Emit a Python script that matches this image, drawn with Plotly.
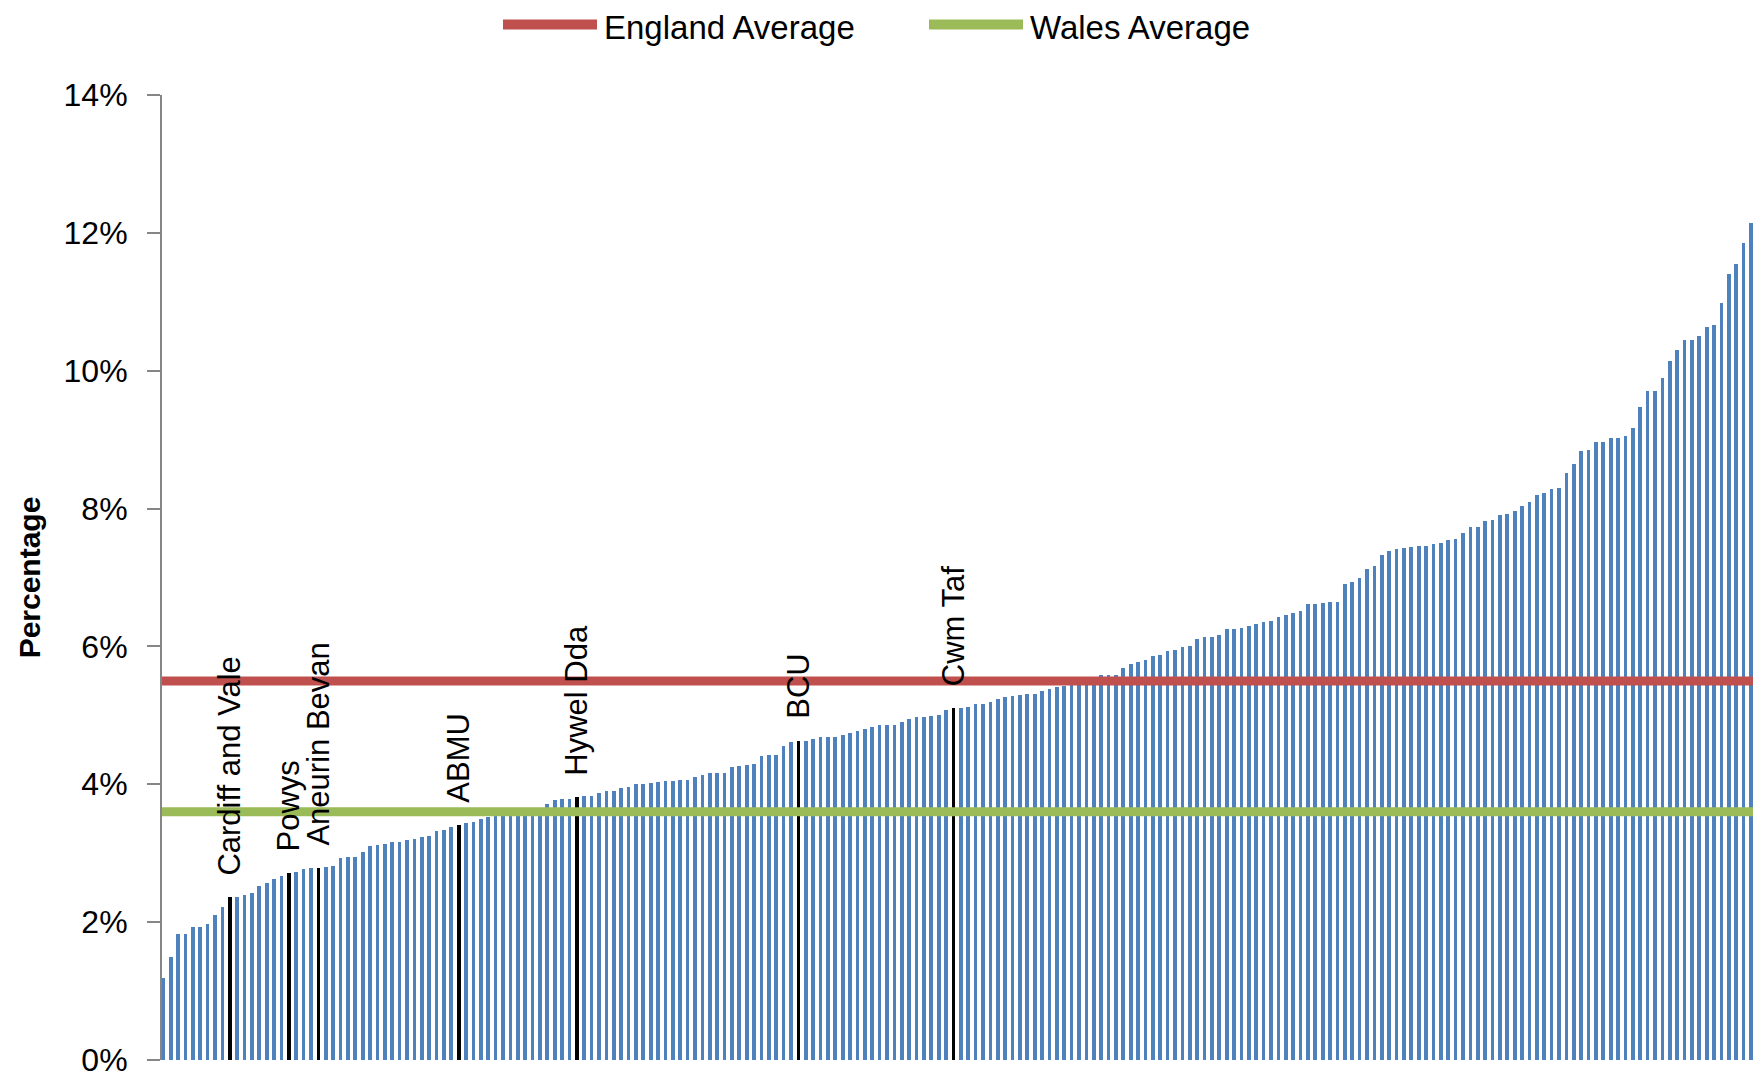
import plotly.graph_objects as go

# ---- data -------------------------------------------------------------
values = [
    1.19, 1.49, 1.83, 1.83, 1.93, 1.93, 1.97, 2.10, 2.22, 2.36,
    2.37, 2.40, 2.42, 2.52, 2.57, 2.62, 2.67, 2.71, 2.73, 2.77,
    2.79, 2.79, 2.80, 2.81, 2.93, 2.95, 2.95, 3.02, 3.11, 3.12,
    3.14, 3.17, 3.17, 3.19, 3.20, 3.24, 3.25, 3.32, 3.34, 3.38,
    3.41, 3.44, 3.45, 3.49, 3.53, 3.55, 3.56, 3.57, 3.58, 3.60,
    3.62, 3.64, 3.71, 3.77, 3.78, 3.79, 3.81, 3.83, 3.83, 3.87,
    3.90, 3.90, 3.94, 3.96, 4.01, 4.01, 4.02, 4.03, 4.05, 4.05,
    4.06, 4.06, 4.10, 4.14, 4.16, 4.16, 4.17, 4.25, 4.27, 4.28,
    4.29, 4.41, 4.43, 4.43, 4.55, 4.61, 4.63, 4.63, 4.65, 4.69,
    4.69, 4.69, 4.71, 4.74, 4.77, 4.80, 4.83, 4.86, 4.86, 4.86,
    4.91, 4.94, 4.97, 4.97, 4.99, 5.01, 5.08, 5.11, 5.11, 5.12,
    5.17, 5.17, 5.19, 5.24, 5.26, 5.28, 5.29, 5.31, 5.31, 5.36,
    5.38, 5.41, 5.42, 5.44, 5.47, 5.50, 5.53, 5.58, 5.58, 5.59,
    5.69, 5.75, 5.77, 5.80, 5.86, 5.88, 5.94, 5.95, 5.99, 6.00,
    6.11, 6.14, 6.14, 6.17, 6.25, 6.25, 6.27, 6.30, 6.33, 6.35,
    6.37, 6.42, 6.46, 6.49, 6.51, 6.61, 6.61, 6.63, 6.64, 6.65,
    6.91, 6.93, 7.00, 7.13, 7.17, 7.33, 7.38, 7.42, 7.43, 7.44,
    7.45, 7.46, 7.48, 7.50, 7.54, 7.56, 7.65, 7.73, 7.73, 7.82,
    7.83, 7.91, 7.92, 7.97, 8.04, 8.10, 8.20, 8.23, 8.29, 8.30,
    8.52, 8.64, 8.83, 8.85, 8.97, 8.97, 9.02, 9.02, 9.06, 9.17,
    9.48, 9.70, 9.70, 9.90, 10.14, 10.30, 10.45, 10.45, 10.51, 10.64,
    10.67, 10.98, 11.40, 11.55, 11.86, 12.15,
]
ranks = list(range(1, len(values) + 1))

welsh_names = ["Cardiff and Vale", "Powys", "Aneurin Bevan", "ABMU",
               "Hywel Dda", "BCU", "Cwm Taf"]
welsh_ranks = [10, 18, 22, 41, 57, 87, 108]

england_average = 5.5
wales_average = 3.6

y_ticks = [0, 2, 4, 6, 8, 10, 12, 14]
y_tick_labels = ["0%", "2%", "4%", "6%", "8%", "10%", "12%", "14%"]

# ---- style ------------------------------------------------------------
FONT = "Liberation Sans, Arial, sans-serif"
BLUE = "#4F81BD"
RED = "#C0504D"
GREEN = "#9BBB59"
AXIS = "#868686"

bar_colors = ["black" if r in welsh_ranks else BLUE for r in ranks]

# page body has an 8px margin on every side: keep the figure inside the
# 1761x1080 window so no scrollbars appear
OFF = 8
FIG_W, FIG_H = 1761 - 2 * OFF, 1080 - 2 * OFF
PLOT_L, PLOT_T, PLOT_B = 162, 95, 1060          # page pixels
PW = FIG_W + OFF - PLOT_L                          # plot width (px)
PH = PLOT_B - PLOT_T

# x range: first bar just right of the y axis, last bar at right edge
first_px, last_px = 163.3, PLOT_L + PW - 2.0
step = (last_px - first_px) / (len(values) - 1)
x_lo = ranks[0] - (first_px - PLOT_L) / step
x_hi = x_lo + PW / step

fig = go.Figure()
fig.add_trace(go.Bar(
    x=ranks, y=values, width=0.5,
    marker=dict(color=bar_colors, line=dict(width=0)),
    showlegend=False, hoverinfo="x+y",
))

for name, val, col in [("England Average", england_average, RED),
                       ("Wales Average", wales_average, GREEN)]:
    fig.add_trace(go.Scatter(
        x=[x_lo - 1, x_hi + 1], y=[val, val], mode="lines",
        line=dict(color=col, width=9), name=name, showlegend=False,
    ))

annotations = []
for name, r in zip(welsh_names, welsh_ranks):
    annotations.append(dict(
        x=r, y=values[r - 1], xref="x", yref="y", text=name,
        textangle=-90, showarrow=False, xanchor="center", yanchor="bottom",
        yshift=20, font=dict(family=FONT, size=31, color="black"),
    ))

# manual legend (top centre), positions in page pixels
def px(p):
    return (p - PLOT_L) / PW
def py(p):
    return (PLOT_B - p) / PH
shapes = []
for (x0, x1, tx, name, col) in [(503, 597, 603, "England Average", RED),
                                (929, 1023, 1029, "Wales Average", GREEN)]:
    shapes.append(dict(type="line", xref="paper", yref="paper",
                       x0=px(x0), x1=px(x1), y0=py(24.5), y1=py(24.5),
                       line=dict(color=col, width=10)))
    annotations.append(dict(x=px(tx), y=py(27), xref="paper", yref="paper",
                            text=name, showarrow=False, xanchor="left",
                            yanchor="middle", borderpad=0,
                            font=dict(family=FONT, size=33, color="black")))

fig.update_layout(
    width=FIG_W, height=FIG_H, autosize=False,
    margin=dict(l=PLOT_L - OFF, r=0, t=PLOT_T - OFF,
                b=FIG_H + OFF - PLOT_B, pad=0, autoexpand=False),
    paper_bgcolor="white", plot_bgcolor="white",
    font=dict(family=FONT, color="black"),
    bargap=0,
    showlegend=False,
    annotations=annotations,
    shapes=shapes,
    xaxis=dict(range=[x_lo, x_hi], visible=False, showgrid=False,
               zeroline=False, automargin=False),
    yaxis=dict(
        range=[0, 14], tickvals=y_ticks, ticktext=y_tick_labels,
        ticks="outside", ticklen=13, tickwidth=2, tickcolor=AXIS,
        showline=True, linecolor=AXIS, linewidth=2,
        showgrid=False, zeroline=False, automargin=False,
        tickfont=dict(family=FONT, size=32, color="black"),
        ticklabelstandoff=13, ticklabeloverflow="allow",
        title=dict(text="<b>Percentage</b>", standoff=14,
                   font=dict(family=FONT, size=30, color="black")),
    ),
)

fig.write_html("out.html")
